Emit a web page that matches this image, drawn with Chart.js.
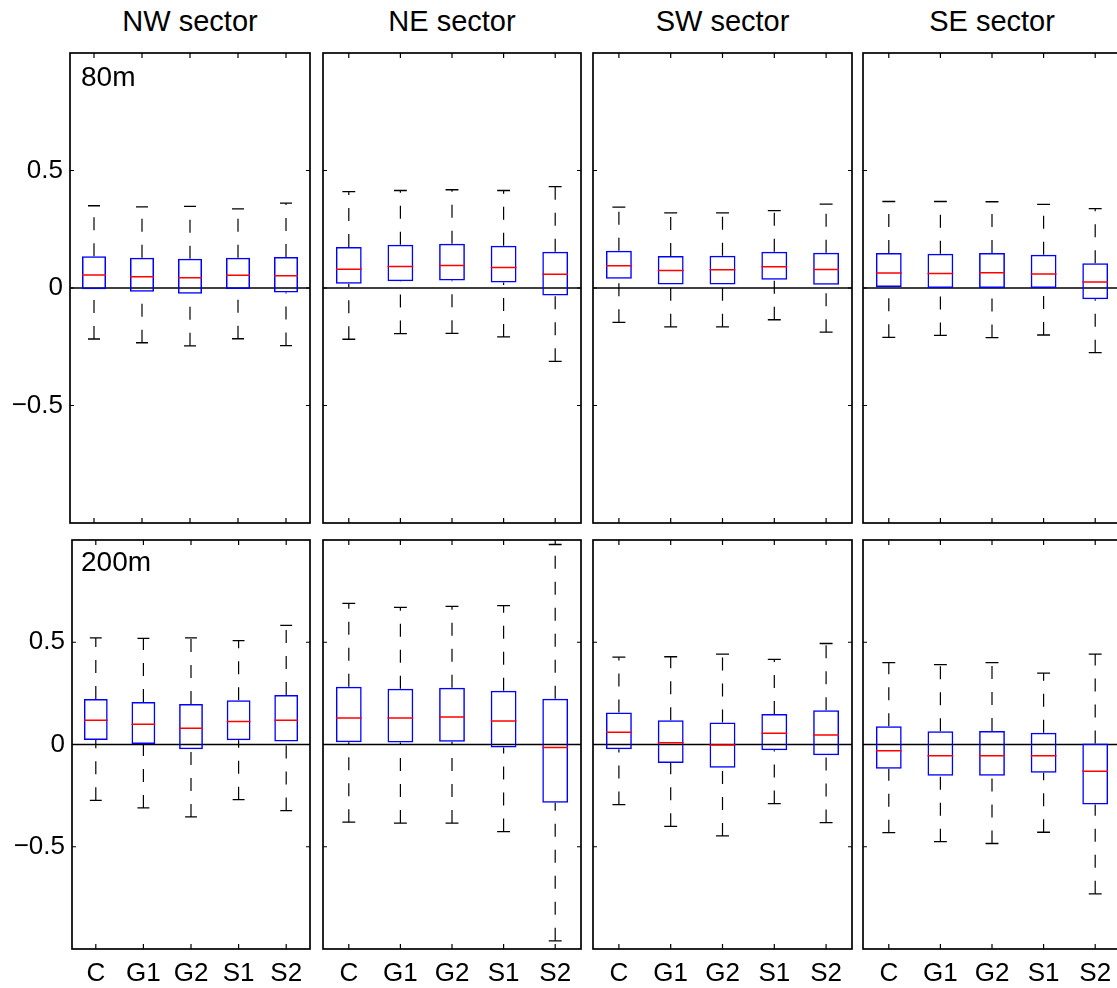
<!DOCTYPE html>
<html>
<head>
<meta charset="utf-8">
<title>Sector box plots</title>
<script src="https://cdn.jsdelivr.net/npm/chart.js"></script>
<style>
    html, body { margin: 0; padding: 0; background: #fff; overflow: hidden; }
    body { position: relative; width: 1117px; height: 988px; font-family: "Liberation Sans", Arial, sans-serif; color: #000; }
    .panel { position: absolute; line-height: 0; }
    .panel canvas { display: block; }
    .title { position: absolute; font-size: 29px; line-height: 1; text-align: center; white-space: nowrap; }
    .height { position: absolute; font-size: 28px; line-height: 1; white-space: nowrap; }
</style>
</head>
<body>
<script>
// categories and sectors
const categories = ["C", "G1", "G2", "S1", "S2"]
const sectors = ["NW sector", "NE sector", "SW sector", "SE sector"]
const heights = ["80m", "200m"]
const yTicks = [-0.5, 0, 0.5]

// 80m, NW
const nw80Hi  = [0.350, 0.345, 0.347, 0.337, 0.361]
const nw80Q3  = [0.135, 0.129, 0.125, 0.129, 0.132]
const nw80Med = [0.055, 0.048, 0.044, 0.054, 0.052]
const nw80Q1  = [-0.005, -0.016, -0.024, -0.004, -0.019]
const nw80Lo  = [-0.217, -0.233, -0.246, -0.216, -0.245]

// 80m, NE
const ne80Hi  = [0.410, 0.415, 0.418, 0.415, 0.431]
const ne80Q3  = [0.174, 0.184, 0.188, 0.180, 0.154]
const ne80Med = [0.080, 0.092, 0.096, 0.087, 0.058]
const ne80Q1  = [0.018, 0.029, 0.032, 0.023, -0.032]
const ne80Lo  = [-0.218, -0.194, -0.193, -0.208, -0.312]

// 80m, SW
const sw80Hi  = [0.344, 0.320, 0.320, 0.329, 0.357]
const sw80Q3  = [0.159, 0.136, 0.137, 0.154, 0.150]
const sw80Med = [0.095, 0.075, 0.078, 0.090, 0.079]
const sw80Q1  = [0.039, 0.015, 0.015, 0.035, 0.014]
const sw80Lo  = [-0.146, -0.165, -0.165, -0.135, -0.188]

// 80m, SE
const se80Hi  = [0.368, 0.368, 0.367, 0.356, 0.338]
const se80Q3  = [0.149, 0.146, 0.149, 0.142, 0.105]
const se80Med = [0.064, 0.062, 0.065, 0.060, 0.026]
const se80Q1  = [0.004, 0.000, 0.000, 0.000, -0.048]
const se80Lo  = [-0.210, -0.202, -0.211, -0.200, -0.275]

// 200m, NW
const nw200Hi  = [0.521, 0.519, 0.521, 0.508, 0.583]
const nw200Q3  = [0.222, 0.208, 0.198, 0.216, 0.242]
const nw200Med = [0.118, 0.099, 0.079, 0.113, 0.118]
const nw200Q1  = [0.022, 0.003, -0.023, 0.021, 0.015]
const nw200Lo  = [-0.273, -0.310, -0.354, -0.270, -0.323]

// 200m, NE
const ne200Hi  = [0.690, 0.671, 0.675, 0.679, 0.978]
const ne200Q3  = [0.283, 0.273, 0.278, 0.263, 0.224]
const ne200Med = [0.130, 0.130, 0.135, 0.115, -0.015]
const ne200Q1  = [0.011, 0.010, 0.013, -0.015, -0.285]
const ne200Lo  = [-0.380, -0.384, -0.384, -0.426, -0.960]

// 200m, SW
const sw200Hi  = [0.427, 0.429, 0.442, 0.416, 0.494]
const sw200Q3  = [0.156, 0.118, 0.107, 0.149, 0.167]
const sw200Med = [0.060, 0.008, -0.003, 0.055, 0.047]
const sw200Q1  = [-0.023, -0.090, -0.114, -0.028, -0.052]
const sw200Lo  = [-0.294, -0.400, -0.447, -0.289, -0.382]

// 200m, SE
const se200Hi  = [0.400, 0.391, 0.400, 0.349, 0.442]
const se200Q3  = [0.089, 0.065, 0.066, 0.058, 0.005]
const se200Med = [-0.031, -0.055, -0.055, -0.055, -0.131]
const se200Q1  = [-0.119, -0.153, -0.153, -0.138, -0.294]
const se200Lo  = [-0.431, -0.475, -0.484, -0.429, -0.730]

const boxes = [
    [
        {hi: nw80Hi, q3: nw80Q3, med: nw80Med, q1: nw80Q1, lo: nw80Lo},
        {hi: ne80Hi, q3: ne80Q3, med: ne80Med, q1: ne80Q1, lo: ne80Lo},
        {hi: sw80Hi, q3: sw80Q3, med: sw80Med, q1: sw80Q1, lo: sw80Lo},
        {hi: se80Hi, q3: se80Q3, med: se80Med, q1: se80Q1, lo: se80Lo}
    ],
    [
        {hi: nw200Hi, q3: nw200Q3, med: nw200Med, q1: nw200Q1, lo: nw200Lo},
        {hi: ne200Hi, q3: ne200Q3, med: ne200Med, q1: ne200Q1, lo: ne200Lo},
        {hi: sw200Hi, q3: sw200Q3, med: sw200Med, q1: sw200Q1, lo: sw200Lo},
        {hi: se200Hi, q3: se200Q3, med: se200Med, q1: se200Q1, lo: se200Lo}
    ]
]

// panel geometry (plot area edges in page pixels)
const colLeft = [[70, 323, 593, 863], [72, 323, 593, 863]]
const colRight = [310, 581, 852, 1121]
const rowTop = [53, 540]
const rowBottom = [523, 949]
const pageHeight = 988

Chart.defaults.font.family = '"Liberation Sans", Arial, sans-serif'
Chart.defaults.color = '#000'

// frame, zero line and inward tick marks like the matlab box
var framePlugin = {
    id: "frame",
    beforeDatasetsDraw: function(chart){
        var a = chart.chartArea
        var ctx = chart.ctx
        var y0 = chart.scales.y.getPixelForValue(0)
        ctx.save()
        ctx.strokeStyle = "#000"
        ctx.lineWidth = 1.3
        ctx.beginPath()
        ctx.moveTo(a.left, y0)
        ctx.lineTo(a.right, y0)
        ctx.stroke()
        ctx.restore()
    },
    afterDraw: function(chart){
        var a = chart.chartArea
        var ctx = chart.ctx
        ctx.save()
        ctx.strokeStyle = "#000"
        ctx.lineWidth = 1.2
        ctx.beginPath()
        categories.forEach(function(c, i){
            var x = chart.scales.x.getPixelForValue(i)
            ctx.moveTo(x, a.top)
            ctx.lineTo(x, a.top + 5)
            ctx.moveTo(x, a.bottom)
            ctx.lineTo(x, a.bottom - 5)
        })
        yTicks.forEach(function(v){
            var y = chart.scales.y.getPixelForValue(v)
            ctx.moveTo(a.left, y)
            ctx.lineTo(a.left + 4, y)
            ctx.moveTo(a.right, y)
            ctx.lineTo(a.right - 4, y)
        })
        ctx.stroke()
        ctx.lineWidth = 1.7
        ctx.strokeRect(a.left, a.top, a.right - a.left, a.bottom - a.top)
        ctx.restore()
    }
}

function WhiskerPoints(b){
    let pts = []
    categories.forEach(function(c, i){
        pts.push({x: c, y: b.lo[i]}, {x: c, y: b.q1[i]}, {x: c, y: null})
        pts.push({x: c, y: b.q3[i]}, {x: c, y: b.hi[i]}, {x: c, y: null})
    })
    return pts
}

function CapPoints(b){
    let pts = []
    categories.forEach(function(c, i){
        pts.push({x: c, y: b.hi[i]}, {x: c, y: b.lo[i]})
    })
    return pts
}

function GetDatasets(b, step){
    return [
        {
            type: "line",
            label: "whiskers",
            data: WhiskerPoints(b),
            borderColor: "#000",
            borderWidth: 1.2,
            borderDash: [13, 13],
            pointRadius: 0,
            spanGaps: false,
            order: 4
        },
        {
            type: "line",
            label: "caps",
            data: CapPoints(b),
            showLine: false,
            pointStyle: "line",
            pointRadius: step / 8,
            pointBorderColor: "#000",
            pointBorderWidth: 1.3,
            order: 3
        },
        {
            type: "bar",
            label: "box",
            data: b.q1.map(function(v, i){ return [v, b.q3[i]] }),
            backgroundColor: "rgba(0,0,0,0)",
            borderColor: "#0000ff",
            borderWidth: 1.5,
            borderSkipped: false,
            barPercentage: 0.5,
            categoryPercentage: 1.0,
            order: 2
        },
        {
            type: "line",
            label: "median",
            data: b.med,
            showLine: false,
            pointStyle: "line",
            pointRadius: step / 4,
            pointBorderColor: "#ff0000",
            pointBorderWidth: 1.5,
            order: 1
        }
    ]
}

function ZeroPadding(scale){
    scale.paddingTop = 0
    scale.paddingBottom = 0
    scale.paddingLeft = 0
    scale.paddingRight = 0
}

function MakePanel(row, col){
    var left = colLeft[row][col]
    var right = colRight[col]
    var top = rowTop[row]
    var bottom = rowBottom[row]
    var boxLeft = col == 0 ? 0 : left - 3
    var boxTop = top - 3
    var w = right + 3 - boxLeft
    var h = row == 1 ? pageHeight - boxTop : bottom + 3 - boxTop
    var xAxisHeight = pageHeight - bottom

    var div = document.createElement("div")
    div.className = "panel"
    div.style.left = boxLeft + "px"
    div.style.top = boxTop + "px"
    var canvas = document.createElement("canvas")
    canvas.width = w
    canvas.height = h
    div.appendChild(canvas)
    document.body.appendChild(div)

    var step = (right - left) / categories.length

    new Chart(canvas, {
        type: "bar",
        data: {
            labels: categories,
            datasets: GetDatasets(boxes[row][col], step)
        },
        options: {
            responsive: false,
            animation: false,
            events: [],
            layout: {
                autoPadding: false,
                padding: {left: col == 0 ? 0 : 3, top: 3, right: 3, bottom: row == 1 ? 0 : 3}
            },
            plugins: {
                legend: {display: false},
                tooltip: {enabled: false},
                title: {display: false}
            },
            scales: {
                x: {
                    type: "category",
                    offset: true,
                    display: row == 1,
                    grid: {drawOnChartArea: false, drawTicks: false},
                    border: {display: false},
                    ticks: {font: {size: 26}, padding: 9, maxRotation: 0, autoSkip: false},
                    afterFit: function(scale){
                        if(row == 1) scale.height = xAxisHeight
                        ZeroPadding(scale)
                    }
                },
                y: {
                    type: "linear",
                    min: -1,
                    max: 1,
                    display: col == 0,
                    grid: {drawOnChartArea: false, drawTicks: false},
                    border: {display: false},
                    afterBuildTicks: function(scale){
                        scale.ticks = yTicks.map(function(v){ return {value: v} })
                    },
                    ticks: {
                        font: {size: 26},
                        padding: 7,
                        callback: function(v){
                            if(v == 0) return "0"
                            return v < 0 ? "\u2212" + Math.abs(v) : String(v)
                        }
                    },
                    afterFit: function(scale){
                        if(col == 0) scale.width = left
                        ZeroPadding(scale)
                    }
                }
            }
        },
        plugins: [framePlugin]
    })

    if(row == 0){
        var t = document.createElement("div")
        t.className = "title"
        t.textContent = sectors[col]
        t.style.left = left + "px"
        t.style.width = (right - left) + "px"
        t.style.top = "7px"
        document.body.appendChild(t)
    }
    if(col == 0){
        var lab = document.createElement("div")
        lab.className = "height"
        lab.textContent = heights[row]
        lab.style.left = "81px"
        lab.style.top = (row == 0 ? 63 : 548) + "px"
        document.body.appendChild(lab)
    }
}

for(var r = 0; r < 2; r++){
    for(var c = 0; c < 4; c++){
        MakePanel(r, c)
    }
}
</script>
</body>
</html>
